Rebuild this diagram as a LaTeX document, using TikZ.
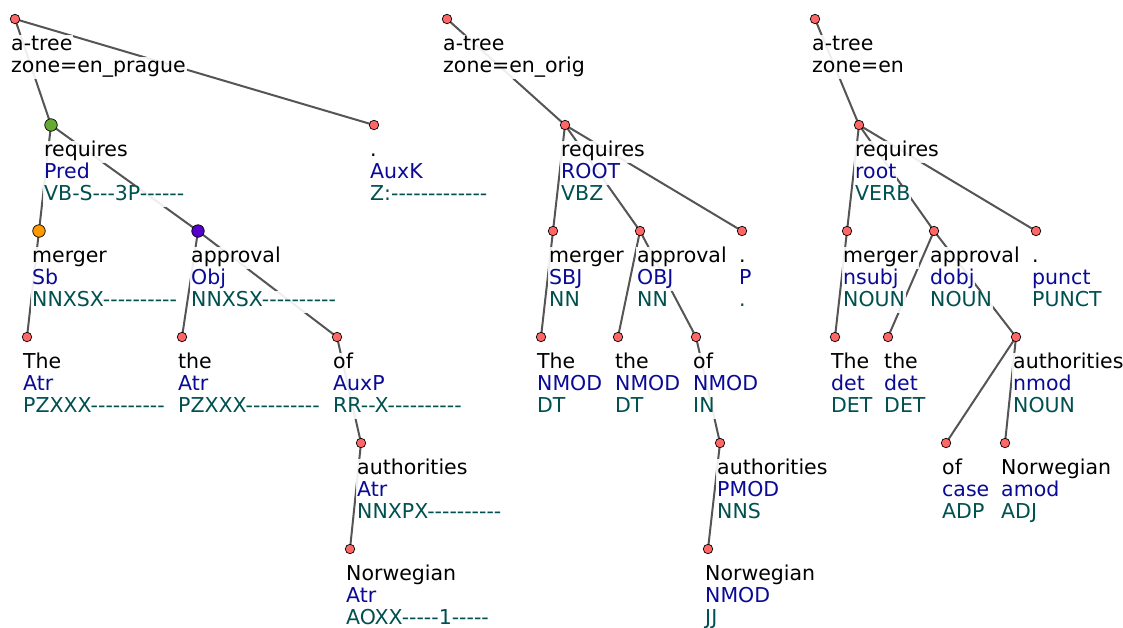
\documentclass[tikz,border=0pt]{standalone}
\usepackage{fontspec}
\newfontfamily\dvs{DejaVu Sans}
\pgfdeclarelayer{bg}
\pgfdeclarelayer{mid}
\pgfsetlayers{bg,mid,main}
\definecolor{nred}{RGB}{255,102,102}
\definecolor{cgreen}{RGB}{102,170,51}
\definecolor{corange}{RGB}{255,153,0}
\definecolor{cpurple}{RGB}{85,0,204}
\definecolor{depc}{RGB}{10,10,150}
\definecolor{tagc}{RGB}{0,80,80}
\definecolor{edgec}{RGB}{85,85,85}
\tikzset{
  edge/.style={draw=edgec, line width=2pt},
  rn/.style={circle, draw=black, line width=0.7pt, fill=nred, minimum size=9.5pt, inner sep=0pt},
  bn/.style={rn, minimum size=12.5pt},
  lbl/.style={anchor=base west, inner xsep=1pt, inner ysep=0pt, text height=15pt, text depth=7pt,
    fill=white, fill opacity=0.9, text opacity=1, font=\dvs\fontsize{20.5}{22}\selectfont},
}
\newcommand\tokk[6]{%
  \node[lbl] (#1a) at (#2-1,#3+31) {#4};
  \node[lbl,text=depc] (#1b) at (#2-1,#3+53) {#5};
  \node[lbl,text=tagc] (#1c) at (#2-1,#3+75) {#6};}
\newcommand\rootl[4]{%
  \node[lbl] (#1a) at (#2-1,#3+31) {a-tree};
  \node[lbl] (#1b) at (#2-1,#3+53) {#4};}
\begin{document}
\begin{tikzpicture}[x=1pt,y=-1pt]
\useasboundingbox (0,0) rectangle (1123,627);
% ---------- tree 1 nodes
\node[rn] (a0) at (15,19) {};
\node[bn,fill=cgreen] (a1) at (51,125) {};
\node[rn] (a2) at (374,125) {};
\node[bn,fill=corange] (a3) at (39,231) {};
\node[bn,fill=cpurple] (a4) at (198,231) {};
\node[rn] (a5) at (27,337) {};
\node[rn] (a6) at (182,337) {};
\node[rn] (a7) at (337,337) {};
\node[rn] (a8) at (361,443) {};
\node[rn] (a9) at (350,549) {};
% ---------- tree 2 nodes
\node[rn] (b0) at (447,19) {};
\node[rn] (b1) at (565,125) {};
\node[rn] (b2) at (553,231) {};
\node[rn] (b3) at (640,231) {};
\node[rn] (b4) at (742,231) {};
\node[rn] (b5) at (541,337) {};
\node[rn] (b6) at (618,337) {};
\node[rn] (b7) at (696,337) {};
\node[rn] (b8) at (720,443) {};
\node[rn] (b9) at (708,549) {};
% ---------- tree 3 nodes
\node[rn] (c0) at (815,19) {};
\node[rn] (c1) at (859,125) {};
\node[rn] (c2) at (847,231) {};
\node[rn] (c3) at (934,231) {};
\node[rn] (c4) at (1036,231) {};
\node[rn] (c5) at (835,337) {};
\node[rn] (c6) at (888,337) {};
\node[rn] (c7) at (1016,337) {};
\node[rn] (c8) at (946,443) {};
\node[rn] (c9) at (1005,443) {};
% ---------- edges
\begin{pgfonlayer}{bg}
\draw[edge] (a0.center) -- (a1.center);
\draw[edge] (a0.center) -- (a2.center);
\draw[edge] (a1.center) -- (a3.center);
\draw[edge] (a1.center) -- (a4.center);
\draw[edge] (a3.center) -- (a5.center);
\draw[edge] (a4.center) -- (a6.center);
\draw[edge] (a4.center) -- (a7.center);
\draw[edge] (a7.center) -- (a8.center);
\draw[edge] (a8.center) -- (a9.center);
\draw[edge] (b0.center) -- (b1.center);
\draw[edge] (b1.center) -- (b2.center);
\draw[edge] (b1.center) -- (b3.center);
\draw[edge] (b1.center) -- (b4.center);
\draw[edge] (b2.center) -- (b5.center);
\draw[edge] (b3.center) -- (b6.center);
\draw[edge] (b3.center) -- (b7.center);
\draw[edge] (b7.center) -- (b8.center);
\draw[edge] (b8.center) -- (b9.center);
\draw[edge] (c0.center) -- (c1.center);
\draw[edge] (c1.center) -- (c2.center);
\draw[edge] (c1.center) -- (c3.center);
\draw[edge] (c1.center) -- (c4.center);
\draw[edge] (c2.center) -- (c5.center);
\draw[edge] (c3.center) -- (c6.center);
\draw[edge] (c3.center) -- (c7.center);
\draw[edge] (c7.center) -- (c8.center);
\draw[edge] (c7.center) -- (c9.center);
\end{pgfonlayer}
% ---------- labels
\begin{pgfonlayer}{mid}
\rootl{ta0}{11}{19}{zone=en\_prague}
\tokk{ta1}{44}{125}{requires}{Pred}{VB-S---3P------}
\tokk{ta2}{370}{125}{.}{AuxK}{Z:-------------}
\tokk{ta3}{32}{231}{merger}{Sb}{NNXSX----------}
\tokk{ta4}{191}{231}{approval}{Obj}{NNXSX----------}
\tokk{ta5}{23}{337}{The}{Atr}{PZXXX----------}
\tokk{ta6}{178}{337}{the}{Atr}{PZXXX----------}
\tokk{ta7}{333}{337}{of}{AuxP}{RR--X----------}
\tokk{ta8}{357}{443}{authorities}{Atr}{NNXPX----------}
\tokk{ta9}{346}{549}{Norwegian}{Atr}{AOXX-----1-----}
\rootl{tb0}{443}{19}{zone=en\_orig}
\tokk{tb1}{561}{125}{requires}{ROOT}{VBZ}
\tokk{tb2}{549}{231}{merger}{SBJ}{NN}
\tokk{tb3}{637}{231}{approval}{OBJ}{NN}
\tokk{tb4}{739}{231}{.}{P}{.}
\tokk{tb5}{537}{337}{The}{NMOD}{DT}
\tokk{tb6}{615}{337}{the}{NMOD}{DT}
\tokk{tb7}{693}{337}{of}{NMOD}{IN}
\tokk{tb8}{717}{443}{authorities}{PMOD}{NNS}
\tokk{tb9}{705}{549}{Norwegian}{NMOD}{JJ}
\rootl{tc0}{812}{19}{zone=en}
\tokk{tc1}{855}{125}{requires}{root}{VERB}
\tokk{tc2}{843}{231}{merger}{nsubj}{NOUN}
\tokk{tc3}{930}{231}{approval}{dobj}{NOUN}
\tokk{tc4}{1032}{231}{.}{punct}{PUNCT}
\tokk{tc5}{831}{337}{The}{det}{DET}
\tokk{tc6}{884}{337}{the}{det}{DET}
\tokk{tc7}{1013}{337}{authorities}{nmod}{NOUN}
\tokk{tc8}{942}{443}{of}{case}{ADP}
\tokk{tc9}{1001}{443}{Norwegian}{amod}{ADJ}
\end{pgfonlayer}
\end{tikzpicture}
\end{document}
